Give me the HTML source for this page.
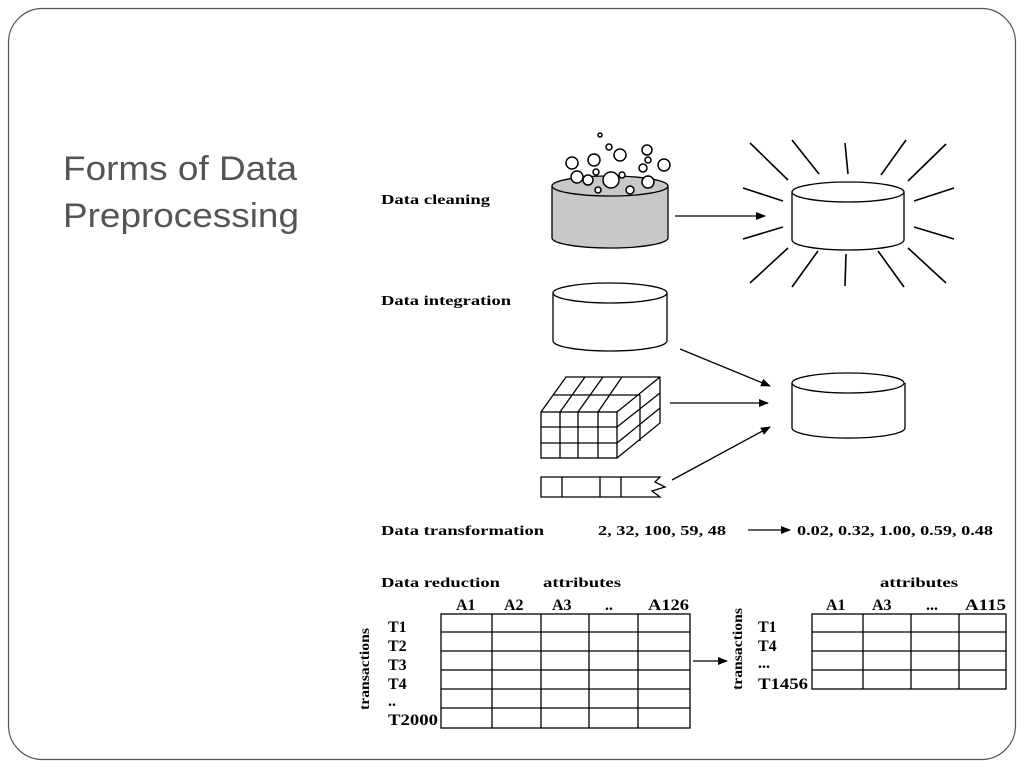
<!DOCTYPE html>
<html><head><meta charset="utf-8"><style>
html,body{margin:0;padding:0;background:#fff;}
svg{display:block}
.t{font-family:"Liberation Serif",serif;font-weight:bold;font-size:14px;fill:#000}
.b{font-size:16px}
</style></head><body>
<svg width="1024" height="768" viewBox="0 0 1024 768" xmlns="http://www.w3.org/2000/svg">
<rect x="8.5" y="8.5" width="1007" height="751" rx="34" fill="#fff" stroke="#555" stroke-width="1.2"/>
<text x="63" y="180" font-family="Liberation Sans, sans-serif" font-size="34" fill="#555" textLength="234" lengthAdjust="spacingAndGlyphs">Forms of Data</text>
<text x="63" y="227" font-family="Liberation Sans, sans-serif" font-size="34" fill="#555" textLength="236" lengthAdjust="spacingAndGlyphs">Preprocessing</text>
<defs><marker id="a" markerWidth="10" markerHeight="8" refX="9" refY="4" orient="auto" markerUnits="userSpaceOnUse"><path d="M0,0 L10,4 L0,8 z" fill="#000"/></marker></defs>
<g class="t">
<text x="381" y="204" textLength="109" lengthAdjust="spacingAndGlyphs">Data cleaning</text>
<text x="381" y="305" textLength="130" lengthAdjust="spacingAndGlyphs">Data integration</text>
<text x="381" y="535" textLength="163" lengthAdjust="spacingAndGlyphs">Data transformation</text>
<text x="598" y="535" textLength="128" lengthAdjust="spacingAndGlyphs">2, 32, 100, 59, 48</text>
<text x="797" y="535" textLength="196" lengthAdjust="spacingAndGlyphs">0.02, 0.32, 1.00, 0.59, 0.48</text>
<text x="381" y="587" textLength="119" lengthAdjust="spacingAndGlyphs">Data reduction</text>
<text x="543" y="587" textLength="78" lengthAdjust="spacingAndGlyphs">attributes</text>
<text x="880" y="587" textLength="78" lengthAdjust="spacingAndGlyphs">attributes</text>
<g class="b">
<text x="456" y="610">A1</text><text x="504" y="610">A2</text><text x="552" y="610">A3</text><text x="605" y="610">..</text><text x="648" y="610" textLength="41" lengthAdjust="spacingAndGlyphs">A126</text>
<text x="826" y="610">A1</text><text x="872" y="610">A3</text><text x="926" y="610">...</text><text x="965" y="610" textLength="41" lengthAdjust="spacingAndGlyphs">A115</text>
<text x="388" y="632">T1</text><text x="388" y="651">T2</text><text x="388" y="670">T3</text><text x="388" y="689">T4</text><text x="388" y="706">..</text><text x="388" y="725" textLength="50" lengthAdjust="spacingAndGlyphs">T2000</text>
<text x="758" y="632">T1</text><text x="758" y="651">T4</text><text x="758" y="668">...</text><text x="758" y="689" textLength="50" lengthAdjust="spacingAndGlyphs">T1456</text>
</g>
<text transform="translate(369,710) rotate(-90)" textLength="82" lengthAdjust="spacingAndGlyphs">transactions</text>
<text transform="translate(742,690) rotate(-90)" textLength="82" lengthAdjust="spacingAndGlyphs">transactions</text>
</g>
<g stroke="#000" stroke-width="1.3" fill="none">
<path d="M552,186 V238 A58,10 0 0 0 668,238 V186" fill="#c8c8c8"/>
<ellipse cx="610" cy="186" rx="58" ry="10" fill="#c8c8c8"/>
<g fill="#fff" stroke-width="1.5">
<circle cx="600" cy="135" r="2"/><circle cx="609" cy="147" r="3"/><circle cx="572" cy="163" r="6"/><circle cx="594" cy="160" r="6"/><circle cx="620" cy="155" r="6"/><circle cx="647" cy="150" r="5"/><circle cx="648" cy="160" r="3"/><circle cx="664" cy="165" r="6"/><circle cx="643" cy="168" r="4"/><circle cx="577" cy="177" r="6"/><circle cx="588" cy="180" r="5"/><circle cx="596" cy="172" r="3"/><circle cx="611" cy="180" r="8"/><circle cx="622" cy="175" r="3"/><circle cx="648" cy="182" r="6"/><circle cx="598" cy="190" r="3"/><circle cx="630" cy="190" r="4"/>
</g>
<line x1="675" y1="216" x2="765" y2="216" marker-end="url(#a)"/>
<path d="M792,192 V240 A56,10 0 0 0 904,240 V192" fill="#fff"/>
<ellipse cx="848" cy="192" rx="56" ry="10" fill="#fff"/>
<g stroke-width="1.6">
<line x1="750" y1="143" x2="788" y2="180"/><line x1="792" y1="140" x2="819" y2="174"/><line x1="845" y1="143" x2="848" y2="174"/><line x1="881" y1="175" x2="906" y2="140"/><line x1="908" y1="181" x2="946" y2="144"/>
<line x1="743" y1="188" x2="783" y2="201"/><line x1="914" y1="201" x2="954" y2="188"/>
<line x1="743" y1="239" x2="783" y2="227"/><line x1="914" y1="227" x2="954" y2="239"/>
<line x1="750" y1="283" x2="788" y2="248"/><line x1="792" y1="287" x2="818" y2="251"/><line x1="846" y1="254" x2="845" y2="286"/><line x1="878" y1="251" x2="904" y2="287"/><line x1="908" y1="248" x2="946" y2="283"/>
</g>
<path d="M553,293 V341 A57,10 0 0 0 667,341 V293" fill="#fff"/>
<ellipse cx="610" cy="293" rx="57" ry="10" fill="#fff"/>
<path d="M792,383 V428 A56,10 0 0 0 905,428 V383" fill="#fff"/>
<ellipse cx="848" cy="383" rx="56" ry="10" fill="#fff"/>
<line x1="680" y1="349" x2="770" y2="386" marker-end="url(#a)"/>
<line x1="670" y1="403" x2="768" y2="403" marker-end="url(#a)"/>
<line x1="672" y1="480" x2="770" y2="427" marker-end="url(#a)"/>
<line x1="748" y1="530" x2="790" y2="530" marker-end="url(#a)"/>
<line x1="693" y1="661" x2="727" y2="661" marker-end="url(#a)"/>
<rect x="541" y="412" width="76" height="46"/>
<path d="M541,412 L566,377 L660,377 L660,423 L617,458 M617,412 L660,377"/>
<path d="M560,412 L585,377 M578,412 L603,377 M598,412 L622,377 M553,395 L640,395 M541,427 L617,427 M541,443 L617,443 M560,412 V458 M578,412 V458 M598,412 V458 M617,427 L660,393 M617,443 L660,408 M640,395 V441"/>
<path d="M660,477 H541 V497 H660 L652,491 L665,487 L655,482 Z M562,477 V497 M600,477 V497 M621,477 V497"/>
<rect x="441" y="614" width="249" height="114"/>
<path d="M492,614 V728 M541,614 V728 M589,614 V728 M638,614 V728 M441,632 H690 M441,651 H690 M441,670 H690 M441,689 H690 M441,708 H690"/>
<rect x="812" y="614" width="194" height="75"/>
<path d="M863,614 V689 M911,614 V689 M959,614 V689 M812,632 H1006 M812,651 H1006 M812,670 H1006"/>
</g>
</svg>
</body></html>
